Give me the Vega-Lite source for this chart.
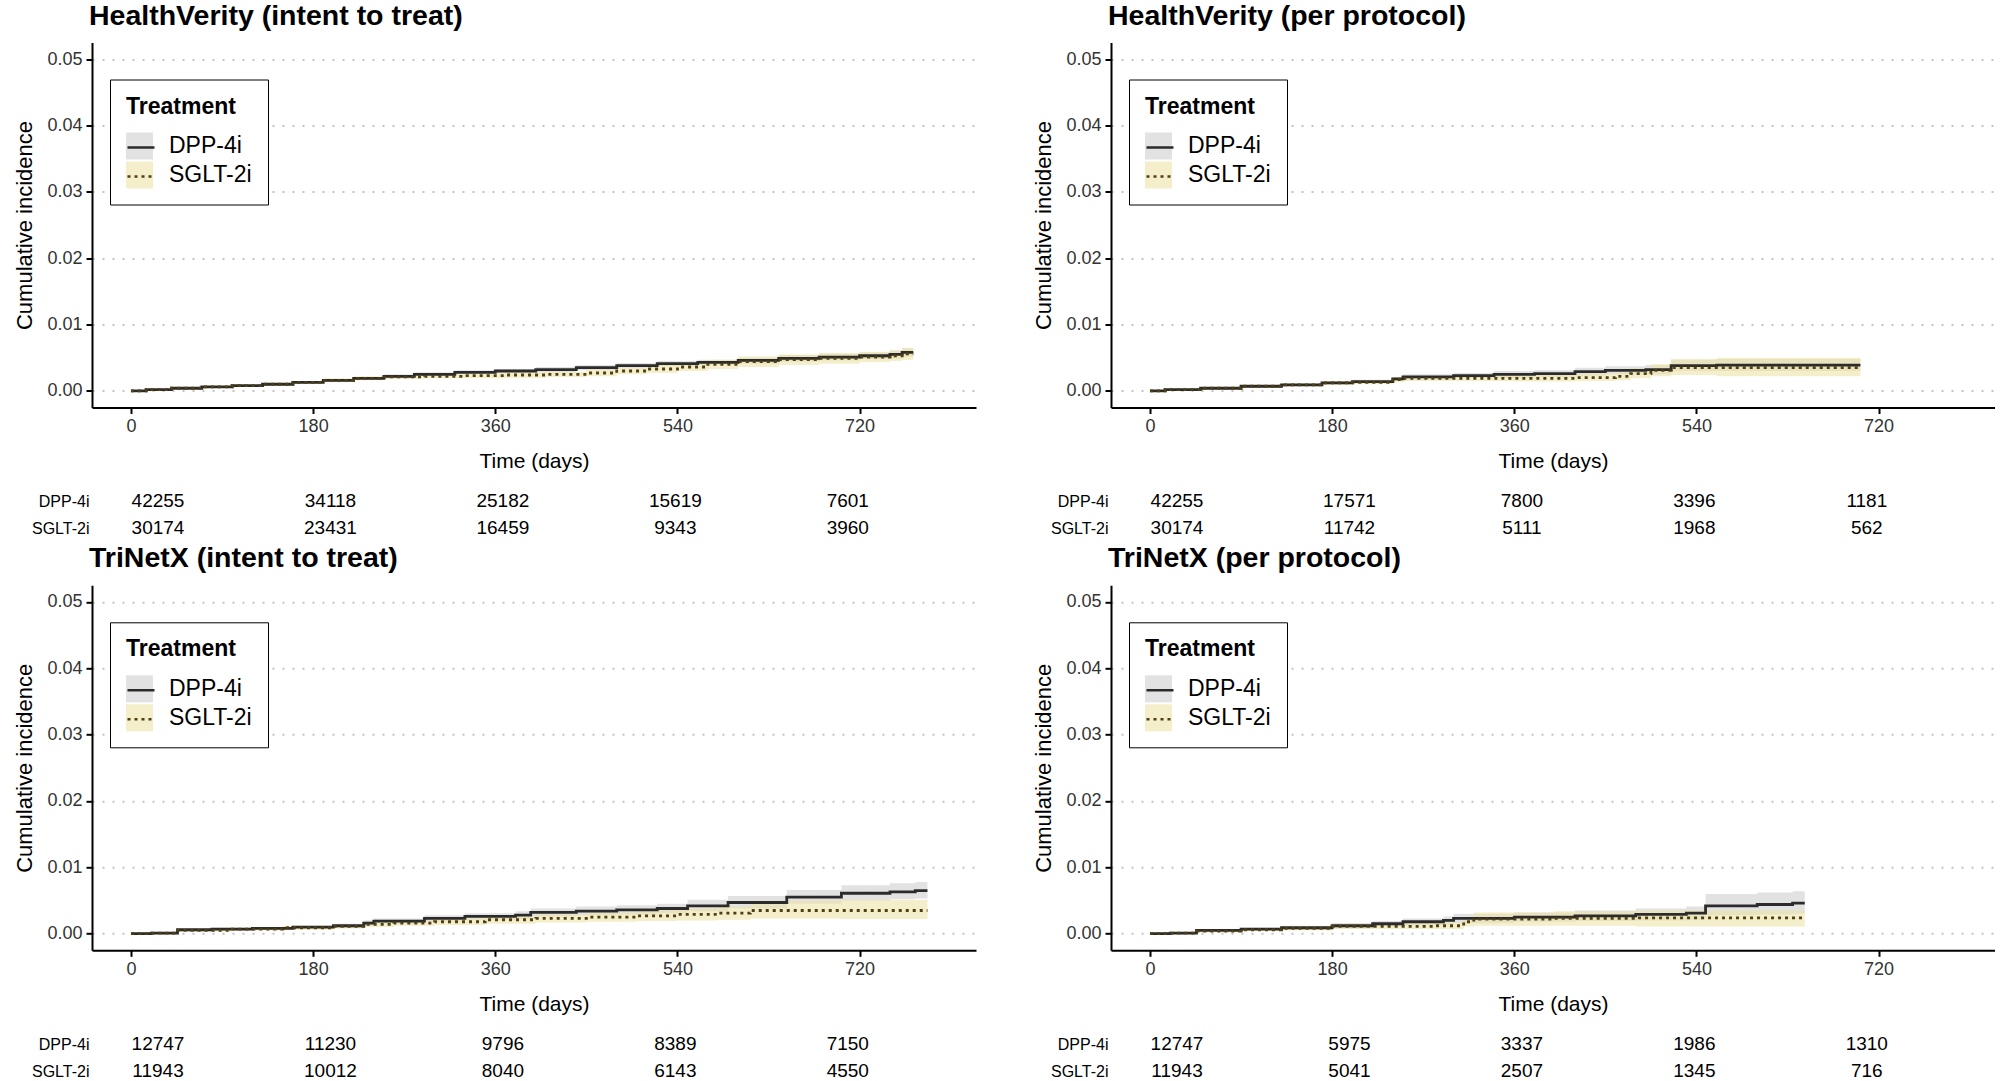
{
"$schema": "https://vega.github.io/schema/vega-lite/v6.json",
"background": "white",
"padding": {"left": 13, "top": 1.5, "right": 0, "bottom": 0},
"config": {
 "font": "Liberation Sans",
 "view": {"stroke": null},
 "axis": {"domainColor": "black", "domainWidth": 2, "tickColor": "black", "tickWidth": 2, "tickSize": 6, "labelColor": "#333333", "labelFontSize": 18, "labelPadding": 4, "titleFontSize": 21, "titleFontWeight": "normal", "titleColor": "black", "grid": false},
 "title": {"fontSize": 28.5, "fontWeight": "bold", "anchor": "start", "frame": "group", "dx": -3, "color": "black", "offset": 12.5},
 "legend": {"titleFontSize": 23, "titleFontWeight": "bold", "titleColor": "black", "labelFontSize": 23, "labelColor": "black", "symbolSize": 729, "padding": 16, "titlePadding": 14, "rowPadding": 2, "labelOffset": 16}
},
"datasets": {
"curves": [
{"panel":"HV-ITT","treatment":"DPP-4i","time":0,"est":0,"lower":0,"upper":0},
{"panel":"HV-ITT","treatment":"DPP-4i","time":15,"est":0.0002,"lower":0.0001,"upper":0.0003},
{"panel":"HV-ITT","treatment":"DPP-4i","time":40,"est":0.0004,"lower":0.0003,"upper":0.0005},
{"panel":"HV-ITT","treatment":"DPP-4i","time":70,"est":0.0006,"lower":0.0005,"upper":0.0007},
{"panel":"HV-ITT","treatment":"DPP-4i","time":100,"est":0.0008,"lower":0.0007,"upper":0.0009},
{"panel":"HV-ITT","treatment":"DPP-4i","time":130,"est":0.0010,"lower":0.0009,"upper":0.0011},
{"panel":"HV-ITT","treatment":"DPP-4i","time":160,"est":0.0013,"lower":0.0011,"upper":0.0015},
{"panel":"HV-ITT","treatment":"DPP-4i","time":190,"est":0.0016,"lower":0.0014,"upper":0.0018},
{"panel":"HV-ITT","treatment":"DPP-4i","time":220,"est":0.0019,"lower":0.0017,"upper":0.0021},
{"panel":"HV-ITT","treatment":"DPP-4i","time":250,"est":0.0022,"lower":0.0019,"upper":0.0025},
{"panel":"HV-ITT","treatment":"DPP-4i","time":280,"est":0.0025,"lower":0.0022,"upper":0.0028},
{"panel":"HV-ITT","treatment":"DPP-4i","time":320,"est":0.0028,"lower":0.0025,"upper":0.0031},
{"panel":"HV-ITT","treatment":"DPP-4i","time":360,"est":0.0030,"lower":0.0027,"upper":0.0033},
{"panel":"HV-ITT","treatment":"DPP-4i","time":400,"est":0.0032,"lower":0.0028,"upper":0.0036},
{"panel":"HV-ITT","treatment":"DPP-4i","time":440,"est":0.0035,"lower":0.0031,"upper":0.0039},
{"panel":"HV-ITT","treatment":"DPP-4i","time":480,"est":0.0038,"lower":0.0034,"upper":0.0042},
{"panel":"HV-ITT","treatment":"DPP-4i","time":520,"est":0.0041,"lower":0.0037,"upper":0.0045},
{"panel":"HV-ITT","treatment":"DPP-4i","time":560,"est":0.0043,"lower":0.0039,"upper":0.0047},
{"panel":"HV-ITT","treatment":"DPP-4i","time":600,"est":0.0046,"lower":0.0041,"upper":0.0050},
{"panel":"HV-ITT","treatment":"DPP-4i","time":640,"est":0.0049,"lower":0.0044,"upper":0.0054},
{"panel":"HV-ITT","treatment":"DPP-4i","time":680,"est":0.0051,"lower":0.0046,"upper":0.0056},
{"panel":"HV-ITT","treatment":"DPP-4i","time":720,"est":0.0053,"lower":0.0048,"upper":0.0058},
{"panel":"HV-ITT","treatment":"DPP-4i","time":750,"est":0.0055,"lower":0.0049,"upper":0.0061},
{"panel":"HV-ITT","treatment":"DPP-4i","time":762,"est":0.0058,"lower":0.0052,"upper":0.0064},
{"panel":"HV-ITT","treatment":"DPP-4i","time":773,"est":0.0058,"lower":0.0052,"upper":0.0064},
{"panel":"HV-ITT","treatment":"SGLT-2i","time":0,"est":0,"lower":0,"upper":0},
{"panel":"HV-ITT","treatment":"SGLT-2i","time":15,"est":0.0002,"lower":0.0001,"upper":0.0003},
{"panel":"HV-ITT","treatment":"SGLT-2i","time":40,"est":0.0004,"lower":0.0003,"upper":0.0005},
{"panel":"HV-ITT","treatment":"SGLT-2i","time":70,"est":0.0006,"lower":0.0005,"upper":0.0007},
{"panel":"HV-ITT","treatment":"SGLT-2i","time":100,"est":0.0008,"lower":0.0007,"upper":0.0009},
{"panel":"HV-ITT","treatment":"SGLT-2i","time":130,"est":0.0010,"lower":0.0008,"upper":0.0012},
{"panel":"HV-ITT","treatment":"SGLT-2i","time":160,"est":0.0013,"lower":0.0011,"upper":0.0015},
{"panel":"HV-ITT","treatment":"SGLT-2i","time":190,"est":0.0016,"lower":0.0013,"upper":0.0019},
{"panel":"HV-ITT","treatment":"SGLT-2i","time":220,"est":0.0019,"lower":0.0016,"upper":0.0022},
{"panel":"HV-ITT","treatment":"SGLT-2i","time":250,"est":0.0021,"lower":0.0018,"upper":0.0024},
{"panel":"HV-ITT","treatment":"SGLT-2i","time":290,"est":0.0022,"lower":0.0019,"upper":0.0026},
{"panel":"HV-ITT","treatment":"SGLT-2i","time":330,"est":0.0023,"lower":0.0019,"upper":0.0027},
{"panel":"HV-ITT","treatment":"SGLT-2i","time":370,"est":0.0024,"lower":0.0020,"upper":0.0028},
{"panel":"HV-ITT","treatment":"SGLT-2i","time":410,"est":0.0025,"lower":0.0021,"upper":0.0029},
{"panel":"HV-ITT","treatment":"SGLT-2i","time":450,"est":0.0027,"lower":0.0022,"upper":0.0032},
{"panel":"HV-ITT","treatment":"SGLT-2i","time":480,"est":0.0030,"lower":0.0025,"upper":0.0035},
{"panel":"HV-ITT","treatment":"SGLT-2i","time":510,"est":0.0033,"lower":0.0027,"upper":0.0039},
{"panel":"HV-ITT","treatment":"SGLT-2i","time":540,"est":0.0036,"lower":0.0030,"upper":0.0042},
{"panel":"HV-ITT","treatment":"SGLT-2i","time":570,"est":0.0040,"lower":0.0033,"upper":0.0047},
{"panel":"HV-ITT","treatment":"SGLT-2i","time":600,"est":0.0044,"lower":0.0036,"upper":0.0052},
{"panel":"HV-ITT","treatment":"SGLT-2i","time":640,"est":0.0047,"lower":0.0039,"upper":0.0055},
{"panel":"HV-ITT","treatment":"SGLT-2i","time":680,"est":0.0049,"lower":0.0041,"upper":0.0057},
{"panel":"HV-ITT","treatment":"SGLT-2i","time":720,"est":0.0051,"lower":0.0043,"upper":0.0059},
{"panel":"HV-ITT","treatment":"SGLT-2i","time":750,"est":0.0053,"lower":0.0045,"upper":0.0061},
{"panel":"HV-ITT","treatment":"SGLT-2i","time":762,"est":0.0056,"lower":0.0047,"upper":0.0065},
{"panel":"HV-ITT","treatment":"SGLT-2i","time":773,"est":0.0056,"lower":0.0047,"upper":0.0065},
{"panel":"HV-PP","treatment":"DPP-4i","time":0,"est":0,"lower":0,"upper":0},
{"panel":"HV-PP","treatment":"DPP-4i","time":15,"est":0.0002,"lower":0.0001,"upper":0.0003},
{"panel":"HV-PP","treatment":"DPP-4i","time":50,"est":0.0004,"lower":0.0003,"upper":0.0005},
{"panel":"HV-PP","treatment":"DPP-4i","time":90,"est":0.0007,"lower":0.0005,"upper":0.0009},
{"panel":"HV-PP","treatment":"DPP-4i","time":130,"est":0.0009,"lower":0.0007,"upper":0.0011},
{"panel":"HV-PP","treatment":"DPP-4i","time":170,"est":0.0012,"lower":0.0010,"upper":0.0014},
{"panel":"HV-PP","treatment":"DPP-4i","time":200,"est":0.0014,"lower":0.0011,"upper":0.0017},
{"panel":"HV-PP","treatment":"DPP-4i","time":240,"est":0.0018,"lower":0.0015,"upper":0.0021},
{"panel":"HV-PP","treatment":"DPP-4i","time":250,"est":0.0021,"lower":0.0017,"upper":0.0025},
{"panel":"HV-PP","treatment":"DPP-4i","time":300,"est":0.0023,"lower":0.0019,"upper":0.0027},
{"panel":"HV-PP","treatment":"DPP-4i","time":340,"est":0.0025,"lower":0.0020,"upper":0.0030},
{"panel":"HV-PP","treatment":"DPP-4i","time":380,"est":0.0026,"lower":0.0021,"upper":0.0031},
{"panel":"HV-PP","treatment":"DPP-4i","time":420,"est":0.0029,"lower":0.0023,"upper":0.0035},
{"panel":"HV-PP","treatment":"DPP-4i","time":450,"est":0.0031,"lower":0.0025,"upper":0.0037},
{"panel":"HV-PP","treatment":"DPP-4i","time":490,"est":0.0032,"lower":0.0025,"upper":0.0039},
{"panel":"HV-PP","treatment":"DPP-4i","time":515,"est":0.0038,"lower":0.0030,"upper":0.0047},
{"panel":"HV-PP","treatment":"DPP-4i","time":560,"est":0.0039,"lower":0.0030,"upper":0.0048},
{"panel":"HV-PP","treatment":"DPP-4i","time":702,"est":0.0039,"lower":0.0030,"upper":0.0048},
{"panel":"HV-PP","treatment":"SGLT-2i","time":0,"est":0,"lower":0,"upper":0},
{"panel":"HV-PP","treatment":"SGLT-2i","time":15,"est":0.0002,"lower":0.0001,"upper":0.0003},
{"panel":"HV-PP","treatment":"SGLT-2i","time":50,"est":0.0004,"lower":0.0003,"upper":0.0005},
{"panel":"HV-PP","treatment":"SGLT-2i","time":90,"est":0.0007,"lower":0.0005,"upper":0.0009},
{"panel":"HV-PP","treatment":"SGLT-2i","time":130,"est":0.0009,"lower":0.0007,"upper":0.0011},
{"panel":"HV-PP","treatment":"SGLT-2i","time":170,"est":0.0012,"lower":0.0009,"upper":0.0015},
{"panel":"HV-PP","treatment":"SGLT-2i","time":200,"est":0.0013,"lower":0.0010,"upper":0.0016},
{"panel":"HV-PP","treatment":"SGLT-2i","time":240,"est":0.0017,"lower":0.0013,"upper":0.0021},
{"panel":"HV-PP","treatment":"SGLT-2i","time":250,"est":0.0019,"lower":0.0015,"upper":0.0023},
{"panel":"HV-PP","treatment":"SGLT-2i","time":300,"est":0.0019,"lower":0.0015,"upper":0.0024},
{"panel":"HV-PP","treatment":"SGLT-2i","time":360,"est":0.0019,"lower":0.0014,"upper":0.0024},
{"panel":"HV-PP","treatment":"SGLT-2i","time":420,"est":0.0020,"lower":0.0015,"upper":0.0026},
{"panel":"HV-PP","treatment":"SGLT-2i","time":460,"est":0.0022,"lower":0.0016,"upper":0.0028},
{"panel":"HV-PP","treatment":"SGLT-2i","time":475,"est":0.0026,"lower":0.0019,"upper":0.0034},
{"panel":"HV-PP","treatment":"SGLT-2i","time":495,"est":0.0031,"lower":0.0022,"upper":0.0040},
{"panel":"HV-PP","treatment":"SGLT-2i","time":515,"est":0.0035,"lower":0.0024,"upper":0.0048},
{"panel":"HV-PP","treatment":"SGLT-2i","time":560,"est":0.0035,"lower":0.0022,"upper":0.0050},
{"panel":"HV-PP","treatment":"SGLT-2i","time":702,"est":0.0035,"lower":0.0022,"upper":0.0050},
{"panel":"TNX-ITT","treatment":"DPP-4i","time":0,"est":0,"lower":0,"upper":0},
{"panel":"TNX-ITT","treatment":"DPP-4i","time":20,"est":0.0001,"lower":0,"upper":0.0002},
{"panel":"TNX-ITT","treatment":"DPP-4i","time":46,"est":0.0006,"lower":0.0004,"upper":0.0008},
{"panel":"TNX-ITT","treatment":"DPP-4i","time":80,"est":0.0007,"lower":0.0005,"upper":0.0009},
{"panel":"TNX-ITT","treatment":"DPP-4i","time":120,"est":0.0008,"lower":0.0006,"upper":0.0010},
{"panel":"TNX-ITT","treatment":"DPP-4i","time":160,"est":0.0010,"lower":0.0008,"upper":0.0012},
{"panel":"TNX-ITT","treatment":"DPP-4i","time":200,"est":0.0012,"lower":0.0009,"upper":0.0015},
{"panel":"TNX-ITT","treatment":"DPP-4i","time":230,"est":0.0016,"lower":0.0012,"upper":0.0020},
{"panel":"TNX-ITT","treatment":"DPP-4i","time":240,"est":0.0019,"lower":0.0015,"upper":0.0023},
{"panel":"TNX-ITT","treatment":"DPP-4i","time":290,"est":0.0023,"lower":0.0018,"upper":0.0028},
{"panel":"TNX-ITT","treatment":"DPP-4i","time":330,"est":0.0026,"lower":0.0021,"upper":0.0031},
{"panel":"TNX-ITT","treatment":"DPP-4i","time":380,"est":0.0028,"lower":0.0022,"upper":0.0034},
{"panel":"TNX-ITT","treatment":"DPP-4i","time":395,"est":0.0032,"lower":0.0026,"upper":0.0038},
{"panel":"TNX-ITT","treatment":"DPP-4i","time":440,"est":0.0034,"lower":0.0028,"upper":0.0041},
{"panel":"TNX-ITT","treatment":"DPP-4i","time":480,"est":0.0036,"lower":0.0029,"upper":0.0043},
{"panel":"TNX-ITT","treatment":"DPP-4i","time":520,"est":0.0038,"lower":0.0031,"upper":0.0045},
{"panel":"TNX-ITT","treatment":"DPP-4i","time":550,"est":0.0042,"lower":0.0034,"upper":0.0051},
{"panel":"TNX-ITT","treatment":"DPP-4i","time":590,"est":0.0047,"lower":0.0038,"upper":0.0057},
{"panel":"TNX-ITT","treatment":"DPP-4i","time":648,"est":0.0055,"lower":0.0045,"upper":0.0066},
{"panel":"TNX-ITT","treatment":"DPP-4i","time":702,"est":0.0061,"lower":0.0050,"upper":0.0073},
{"panel":"TNX-ITT","treatment":"DPP-4i","time":750,"est":0.0063,"lower":0.0052,"upper":0.0076},
{"panel":"TNX-ITT","treatment":"DPP-4i","time":775,"est":0.0065,"lower":0.0053,"upper":0.0078},
{"panel":"TNX-ITT","treatment":"DPP-4i","time":787,"est":0.0065,"lower":0.0053,"upper":0.0078},
{"panel":"TNX-ITT","treatment":"SGLT-2i","time":0,"est":0,"lower":0,"upper":0},
{"panel":"TNX-ITT","treatment":"SGLT-2i","time":20,"est":0.0001,"lower":0,"upper":0.0002},
{"panel":"TNX-ITT","treatment":"SGLT-2i","time":46,"est":0.0005,"lower":0.0003,"upper":0.0007},
{"panel":"TNX-ITT","treatment":"SGLT-2i","time":100,"est":0.0007,"lower":0.0005,"upper":0.0009},
{"panel":"TNX-ITT","treatment":"SGLT-2i","time":150,"est":0.0009,"lower":0.0006,"upper":0.0012},
{"panel":"TNX-ITT","treatment":"SGLT-2i","time":200,"est":0.0011,"lower":0.0008,"upper":0.0014},
{"panel":"TNX-ITT","treatment":"SGLT-2i","time":230,"est":0.0014,"lower":0.0010,"upper":0.0018},
{"panel":"TNX-ITT","treatment":"SGLT-2i","time":260,"est":0.0016,"lower":0.0012,"upper":0.0020},
{"panel":"TNX-ITT","treatment":"SGLT-2i","time":300,"est":0.0018,"lower":0.0013,"upper":0.0023},
{"panel":"TNX-ITT","treatment":"SGLT-2i","time":350,"est":0.0021,"lower":0.0015,"upper":0.0027},
{"panel":"TNX-ITT","treatment":"SGLT-2i","time":400,"est":0.0023,"lower":0.0017,"upper":0.0029},
{"panel":"TNX-ITT","treatment":"SGLT-2i","time":450,"est":0.0025,"lower":0.0018,"upper":0.0032},
{"panel":"TNX-ITT","treatment":"SGLT-2i","time":500,"est":0.0027,"lower":0.0019,"upper":0.0035},
{"panel":"TNX-ITT","treatment":"SGLT-2i","time":540,"est":0.0029,"lower":0.0020,"upper":0.0038},
{"panel":"TNX-ITT","treatment":"SGLT-2i","time":580,"est":0.0031,"lower":0.0021,"upper":0.0041},
{"panel":"TNX-ITT","treatment":"SGLT-2i","time":612,"est":0.0035,"lower":0.0023,"upper":0.0050},
{"panel":"TNX-ITT","treatment":"SGLT-2i","time":700,"est":0.0035,"lower":0.0022,"upper":0.0051},
{"panel":"TNX-ITT","treatment":"SGLT-2i","time":787,"est":0.0035,"lower":0.0022,"upper":0.0052},
{"panel":"TNX-PP","treatment":"DPP-4i","time":0,"est":0,"lower":0,"upper":0},
{"panel":"TNX-PP","treatment":"DPP-4i","time":20,"est":0.0001,"lower":0,"upper":0.0002},
{"panel":"TNX-PP","treatment":"DPP-4i","time":46,"est":0.0005,"lower":0.0003,"upper":0.0007},
{"panel":"TNX-PP","treatment":"DPP-4i","time":90,"est":0.0007,"lower":0.0005,"upper":0.0009},
{"panel":"TNX-PP","treatment":"DPP-4i","time":130,"est":0.0009,"lower":0.0006,"upper":0.0012},
{"panel":"TNX-PP","treatment":"DPP-4i","time":180,"est":0.0012,"lower":0.0008,"upper":0.0016},
{"panel":"TNX-PP","treatment":"DPP-4i","time":220,"est":0.0015,"lower":0.0011,"upper":0.0019},
{"panel":"TNX-PP","treatment":"DPP-4i","time":250,"est":0.0018,"lower":0.0013,"upper":0.0023},
{"panel":"TNX-PP","treatment":"DPP-4i","time":290,"est":0.0020,"lower":0.0014,"upper":0.0026},
{"panel":"TNX-PP","treatment":"DPP-4i","time":300,"est":0.0023,"lower":0.0016,"upper":0.0030},
{"panel":"TNX-PP","treatment":"DPP-4i","time":360,"est":0.0025,"lower":0.0018,"upper":0.0032},
{"panel":"TNX-PP","treatment":"DPP-4i","time":420,"est":0.0027,"lower":0.0019,"upper":0.0035},
{"panel":"TNX-PP","treatment":"DPP-4i","time":480,"est":0.0029,"lower":0.0020,"upper":0.0038},
{"panel":"TNX-PP","treatment":"DPP-4i","time":530,"est":0.0031,"lower":0.0021,"upper":0.0041},
{"panel":"TNX-PP","treatment":"DPP-4i","time":549,"est":0.0042,"lower":0.0028,"upper":0.0060},
{"panel":"TNX-PP","treatment":"DPP-4i","time":600,"est":0.0044,"lower":0.0029,"upper":0.0062},
{"panel":"TNX-PP","treatment":"DPP-4i","time":635,"est":0.0046,"lower":0.0030,"upper":0.0064},
{"panel":"TNX-PP","treatment":"DPP-4i","time":647,"est":0.0046,"lower":0.0030,"upper":0.0064},
{"panel":"TNX-PP","treatment":"SGLT-2i","time":0,"est":0,"lower":0,"upper":0},
{"panel":"TNX-PP","treatment":"SGLT-2i","time":20,"est":0.0001,"lower":0,"upper":0.0002},
{"panel":"TNX-PP","treatment":"SGLT-2i","time":46,"est":0.0004,"lower":0.0002,"upper":0.0006},
{"panel":"TNX-PP","treatment":"SGLT-2i","time":90,"est":0.0006,"lower":0.0004,"upper":0.0008},
{"panel":"TNX-PP","treatment":"SGLT-2i","time":130,"est":0.0008,"lower":0.0005,"upper":0.0011},
{"panel":"TNX-PP","treatment":"SGLT-2i","time":180,"est":0.0011,"lower":0.0007,"upper":0.0015},
{"panel":"TNX-PP","treatment":"SGLT-2i","time":230,"est":0.0011,"lower":0.0007,"upper":0.0016},
{"panel":"TNX-PP","treatment":"SGLT-2i","time":280,"est":0.0012,"lower":0.0007,"upper":0.0017},
{"panel":"TNX-PP","treatment":"SGLT-2i","time":310,"est":0.0018,"lower":0.0011,"upper":0.0025},
{"panel":"TNX-PP","treatment":"SGLT-2i","time":320,"est":0.0022,"lower":0.0012,"upper":0.0032},
{"panel":"TNX-PP","treatment":"SGLT-2i","time":400,"est":0.0023,"lower":0.0012,"upper":0.0034},
{"panel":"TNX-PP","treatment":"SGLT-2i","time":480,"est":0.0024,"lower":0.0011,"upper":0.0035},
{"panel":"TNX-PP","treatment":"SGLT-2i","time":549,"est":0.0024,"lower":0.0011,"upper":0.0035},
{"panel":"TNX-PP","treatment":"SGLT-2i","time":647,"est":0.0024,"lower":0.0011,"upper":0.0035}
],
"risk": [
{"panel":"HV-ITT","treatment":"DPP-4i","time":0,"n":42255},
{"panel":"HV-ITT","treatment":"DPP-4i","time":180,"n":34118},
{"panel":"HV-ITT","treatment":"DPP-4i","time":360,"n":25182},
{"panel":"HV-ITT","treatment":"DPP-4i","time":540,"n":15619},
{"panel":"HV-ITT","treatment":"DPP-4i","time":720,"n":7601},
{"panel":"HV-ITT","treatment":"SGLT-2i","time":0,"n":30174},
{"panel":"HV-ITT","treatment":"SGLT-2i","time":180,"n":23431},
{"panel":"HV-ITT","treatment":"SGLT-2i","time":360,"n":16459},
{"panel":"HV-ITT","treatment":"SGLT-2i","time":540,"n":9343},
{"panel":"HV-ITT","treatment":"SGLT-2i","time":720,"n":3960},
{"panel":"HV-PP","treatment":"DPP-4i","time":0,"n":42255},
{"panel":"HV-PP","treatment":"DPP-4i","time":180,"n":17571},
{"panel":"HV-PP","treatment":"DPP-4i","time":360,"n":7800},
{"panel":"HV-PP","treatment":"DPP-4i","time":540,"n":3396},
{"panel":"HV-PP","treatment":"DPP-4i","time":720,"n":1181},
{"panel":"HV-PP","treatment":"SGLT-2i","time":0,"n":30174},
{"panel":"HV-PP","treatment":"SGLT-2i","time":180,"n":11742},
{"panel":"HV-PP","treatment":"SGLT-2i","time":360,"n":5111},
{"panel":"HV-PP","treatment":"SGLT-2i","time":540,"n":1968},
{"panel":"HV-PP","treatment":"SGLT-2i","time":720,"n":562},
{"panel":"TNX-ITT","treatment":"DPP-4i","time":0,"n":12747},
{"panel":"TNX-ITT","treatment":"DPP-4i","time":180,"n":11230},
{"panel":"TNX-ITT","treatment":"DPP-4i","time":360,"n":9796},
{"panel":"TNX-ITT","treatment":"DPP-4i","time":540,"n":8389},
{"panel":"TNX-ITT","treatment":"DPP-4i","time":720,"n":7150},
{"panel":"TNX-ITT","treatment":"SGLT-2i","time":0,"n":11943},
{"panel":"TNX-ITT","treatment":"SGLT-2i","time":180,"n":10012},
{"panel":"TNX-ITT","treatment":"SGLT-2i","time":360,"n":8040},
{"panel":"TNX-ITT","treatment":"SGLT-2i","time":540,"n":6143},
{"panel":"TNX-ITT","treatment":"SGLT-2i","time":720,"n":4550},
{"panel":"TNX-PP","treatment":"DPP-4i","time":0,"n":12747},
{"panel":"TNX-PP","treatment":"DPP-4i","time":180,"n":5975},
{"panel":"TNX-PP","treatment":"DPP-4i","time":360,"n":3337},
{"panel":"TNX-PP","treatment":"DPP-4i","time":540,"n":1986},
{"panel":"TNX-PP","treatment":"DPP-4i","time":720,"n":1310},
{"panel":"TNX-PP","treatment":"SGLT-2i","time":0,"n":11943},
{"panel":"TNX-PP","treatment":"SGLT-2i","time":180,"n":5041},
{"panel":"TNX-PP","treatment":"SGLT-2i","time":360,"n":2507},
{"panel":"TNX-PP","treatment":"SGLT-2i","time":540,"n":1345},
{"panel":"TNX-PP","treatment":"SGLT-2i","time":720,"n":716}
]
},
"spacing": 1.8,
"resolve": {"scale": {"x": "independent", "y": "independent", "fill": "independent", "stroke": "independent", "strokeDash": "independent"}},
"vconcat": [
{"spacing": 56,
 "resolve": {"scale": {"x": "independent", "y": "independent", "fill": "independent", "stroke": "independent", "strokeDash": "independent"}},
 "hconcat": [
 {"spacing": 16.3,
  "resolve": {"scale": {"x": "independent", "y": "independent", "fill": "independent", "stroke": "independent", "strokeDash": "independent"}},
  "vconcat": [
  {"width": 884, "height": 365,
   "title": {"text": "HealthVerity (intent to treat)"},
   "data": {"name": "curves"},
   "transform": [{"filter": "datum.panel === 'HV-ITT'"}],
   "layer": [
    {"mark": {"type": "area", "interpolate": "step-after", "opacity": 0.6},
     "encoding": {
      "x": {"field": "time", "type": "quantitative", "scale": {"domain": [-38.5, 835], "nice": false, "zero": false}, "axis": {"title": "Time (days)", "values": [0, 180, 360, 540, 720], "titlePadding": 15}},
      "y": {"field": "lower", "type": "quantitative", "scale": {"domain": [-0.0025, 0.0525], "nice": false, "zero": false}, "axis": {"title": "Cumulative incidence", "titleFontSize": 22, "values": [0, 0.01, 0.02, 0.03, 0.04, 0.05], "format": ".2f", "grid": true, "gridColor": "#c4c4c4", "gridDash": [2, 8], "gridWidth": 2, "titlePadding": 10}},
      "y2": {"field": "upper"},
      "fill": {"field": "treatment", "type": "nominal", "scale": {"range": ["#cfcfcf", "#efe3a6"]}, "legend": {"title": "Treatment", "orient": "none", "legendX": 18, "legendY": 37, "symbolType": "square", "symbolStrokeWidth": 0, "strokeColor": "black", "fillColor": "white"}}
     }},
    {"mark": {"type": "line", "interpolate": "step-after", "strokeWidth": 2.8},
     "encoding": {
      "x": {"field": "time", "type": "quantitative", "scale": {"domain": [-38.5, 835], "nice": false, "zero": false}},
      "y": {"field": "est", "type": "quantitative", "scale": {"domain": [-0.0025, 0.0525], "nice": false, "zero": false}},
      "stroke": {"field": "treatment", "type": "nominal", "scale": {"domain": ["DPP-4i", "SGLT-2i"], "range": ["#2b2b2b", "#4f3f12"]}, "legend": {"title": "Treatment", "orient": "none", "legendX": 18, "legendY": 37, "symbolType": "stroke", "symbolStrokeWidth": 2.5, "titleColor": "transparent", "labelColor": "transparent"}},
      "strokeDash": {"field": "treatment", "type": "nominal", "scale": {"domain": ["DPP-4i", "SGLT-2i"], "range": [[1, 0], [3, 4]]}, "legend": {"title": "Treatment", "orient": "none", "legendX": 18, "legendY": 37, "symbolType": "stroke", "symbolStrokeWidth": 2.5, "titleColor": "transparent", "labelColor": "transparent"}}
     }}
   ]},
  {"width": 884, "height": 54,
   "data": {"name": "risk"},
   "transform": [{"filter": "datum.panel === 'HV-ITT'"}],
   "mark": {"type": "text", "fontSize": 19, "color": "black"},
   "encoding": {
    "x": {"field": "time", "type": "quantitative", "scale": {"domain": [-68.9, 853.8], "nice": false, "zero": false}, "axis": null},
    "y": {"field": "treatment", "type": "nominal", "scale": {"type": "point", "padding": 0.5, "domain": ["DPP-4i", "SGLT-2i"]}, "axis": {"title": null, "domain": false, "ticks": false, "labelFontSize": 16, "labelColor": "black", "labelPadding": 3}},
    "text": {"field": "n", "type": "quantitative", "format": "d"}
   }}
  ]},
 {"spacing": 16.3,
  "resolve": {"scale": {"x": "independent", "y": "independent", "fill": "independent", "stroke": "independent", "strokeDash": "independent"}},
  "vconcat": [
  {"width": 884, "height": 365,
   "title": {"text": "HealthVerity (per protocol)"},
   "data": {"name": "curves"},
   "transform": [{"filter": "datum.panel === 'HV-PP'"}],
   "layer": [
    {"mark": {"type": "area", "interpolate": "step-after", "opacity": 0.6},
     "encoding": {
      "x": {"field": "time", "type": "quantitative", "scale": {"domain": [-38.5, 835], "nice": false, "zero": false}, "axis": {"title": "Time (days)", "values": [0, 180, 360, 540, 720], "titlePadding": 15}},
      "y": {"field": "lower", "type": "quantitative", "scale": {"domain": [-0.0025, 0.0525], "nice": false, "zero": false}, "axis": {"title": "Cumulative incidence", "titleFontSize": 22, "values": [0, 0.01, 0.02, 0.03, 0.04, 0.05], "format": ".2f", "grid": true, "gridColor": "#c4c4c4", "gridDash": [2, 8], "gridWidth": 2, "titlePadding": 10}},
      "y2": {"field": "upper"},
      "fill": {"field": "treatment", "type": "nominal", "scale": {"range": ["#cfcfcf", "#efe3a6"]}, "legend": {"title": "Treatment", "orient": "none", "legendX": 18, "legendY": 37, "symbolType": "square", "symbolStrokeWidth": 0, "strokeColor": "black", "fillColor": "white"}}
     }},
    {"mark": {"type": "line", "interpolate": "step-after", "strokeWidth": 2.8},
     "encoding": {
      "x": {"field": "time", "type": "quantitative", "scale": {"domain": [-38.5, 835], "nice": false, "zero": false}},
      "y": {"field": "est", "type": "quantitative", "scale": {"domain": [-0.0025, 0.0525], "nice": false, "zero": false}},
      "stroke": {"field": "treatment", "type": "nominal", "scale": {"domain": ["DPP-4i", "SGLT-2i"], "range": ["#2b2b2b", "#4f3f12"]}, "legend": {"title": "Treatment", "orient": "none", "legendX": 18, "legendY": 37, "symbolType": "stroke", "symbolStrokeWidth": 2.5, "titleColor": "transparent", "labelColor": "transparent"}},
      "strokeDash": {"field": "treatment", "type": "nominal", "scale": {"domain": ["DPP-4i", "SGLT-2i"], "range": [[1, 0], [3, 4]]}, "legend": {"title": "Treatment", "orient": "none", "legendX": 18, "legendY": 37, "symbolType": "stroke", "symbolStrokeWidth": 2.5, "titleColor": "transparent", "labelColor": "transparent"}}
     }}
   ]},
  {"width": 884, "height": 54,
   "data": {"name": "risk"},
   "transform": [{"filter": "datum.panel === 'HV-PP'"}],
   "mark": {"type": "text", "fontSize": 19, "color": "black"},
   "encoding": {
    "x": {"field": "time", "type": "quantitative", "scale": {"domain": [-68.9, 853.8], "nice": false, "zero": false}, "axis": null},
    "y": {"field": "treatment", "type": "nominal", "scale": {"type": "point", "padding": 0.5, "domain": ["DPP-4i", "SGLT-2i"]}, "axis": {"title": null, "domain": false, "ticks": false, "labelFontSize": 16, "labelColor": "black", "labelPadding": 3}},
    "text": {"field": "n", "type": "quantitative", "format": "d"}
   }}
  ]}
 ]},
{"spacing": 56,
 "resolve": {"scale": {"x": "independent", "y": "independent", "fill": "independent", "stroke": "independent", "strokeDash": "independent"}},
 "hconcat": [
 {"spacing": 16.3,
  "resolve": {"scale": {"x": "independent", "y": "independent", "fill": "independent", "stroke": "independent", "strokeDash": "independent"}},
  "vconcat": [
  {"width": 884, "height": 365,
   "title": {"text": "TriNetX (intent to treat)"},
   "data": {"name": "curves"},
   "transform": [{"filter": "datum.panel === 'TNX-ITT'"}],
   "layer": [
    {"mark": {"type": "area", "interpolate": "step-after", "opacity": 0.6},
     "encoding": {
      "x": {"field": "time", "type": "quantitative", "scale": {"domain": [-38.5, 835], "nice": false, "zero": false}, "axis": {"title": "Time (days)", "values": [0, 180, 360, 540, 720], "titlePadding": 15}},
      "y": {"field": "lower", "type": "quantitative", "scale": {"domain": [-0.0025, 0.0525], "nice": false, "zero": false}, "axis": {"title": "Cumulative incidence", "titleFontSize": 22, "values": [0, 0.01, 0.02, 0.03, 0.04, 0.05], "format": ".2f", "grid": true, "gridColor": "#c4c4c4", "gridDash": [2, 8], "gridWidth": 2, "titlePadding": 10}},
      "y2": {"field": "upper"},
      "fill": {"field": "treatment", "type": "nominal", "scale": {"range": ["#cfcfcf", "#efe3a6"]}, "legend": {"title": "Treatment", "orient": "none", "legendX": 18, "legendY": 37, "symbolType": "square", "symbolStrokeWidth": 0, "strokeColor": "black", "fillColor": "white"}}
     }},
    {"mark": {"type": "line", "interpolate": "step-after", "strokeWidth": 2.8},
     "encoding": {
      "x": {"field": "time", "type": "quantitative", "scale": {"domain": [-38.5, 835], "nice": false, "zero": false}},
      "y": {"field": "est", "type": "quantitative", "scale": {"domain": [-0.0025, 0.0525], "nice": false, "zero": false}},
      "stroke": {"field": "treatment", "type": "nominal", "scale": {"domain": ["DPP-4i", "SGLT-2i"], "range": ["#2b2b2b", "#4f3f12"]}, "legend": {"title": "Treatment", "orient": "none", "legendX": 18, "legendY": 37, "symbolType": "stroke", "symbolStrokeWidth": 2.5, "titleColor": "transparent", "labelColor": "transparent"}},
      "strokeDash": {"field": "treatment", "type": "nominal", "scale": {"domain": ["DPP-4i", "SGLT-2i"], "range": [[1, 0], [3, 4]]}, "legend": {"title": "Treatment", "orient": "none", "legendX": 18, "legendY": 37, "symbolType": "stroke", "symbolStrokeWidth": 2.5, "titleColor": "transparent", "labelColor": "transparent"}}
     }}
   ]},
  {"width": 884, "height": 54,
   "data": {"name": "risk"},
   "transform": [{"filter": "datum.panel === 'TNX-ITT'"}],
   "mark": {"type": "text", "fontSize": 19, "color": "black"},
   "encoding": {
    "x": {"field": "time", "type": "quantitative", "scale": {"domain": [-68.9, 853.8], "nice": false, "zero": false}, "axis": null},
    "y": {"field": "treatment", "type": "nominal", "scale": {"type": "point", "padding": 0.5, "domain": ["DPP-4i", "SGLT-2i"]}, "axis": {"title": null, "domain": false, "ticks": false, "labelFontSize": 16, "labelColor": "black", "labelPadding": 3}},
    "text": {"field": "n", "type": "quantitative", "format": "d"}
   }}
  ]},
 {"spacing": 16.3,
  "resolve": {"scale": {"x": "independent", "y": "independent", "fill": "independent", "stroke": "independent", "strokeDash": "independent"}},
  "vconcat": [
  {"width": 884, "height": 365,
   "title": {"text": "TriNetX (per protocol)"},
   "data": {"name": "curves"},
   "transform": [{"filter": "datum.panel === 'TNX-PP'"}],
   "layer": [
    {"mark": {"type": "area", "interpolate": "step-after", "opacity": 0.6},
     "encoding": {
      "x": {"field": "time", "type": "quantitative", "scale": {"domain": [-38.5, 835], "nice": false, "zero": false}, "axis": {"title": "Time (days)", "values": [0, 180, 360, 540, 720], "titlePadding": 15}},
      "y": {"field": "lower", "type": "quantitative", "scale": {"domain": [-0.0025, 0.0525], "nice": false, "zero": false}, "axis": {"title": "Cumulative incidence", "titleFontSize": 22, "values": [0, 0.01, 0.02, 0.03, 0.04, 0.05], "format": ".2f", "grid": true, "gridColor": "#c4c4c4", "gridDash": [2, 8], "gridWidth": 2, "titlePadding": 10}},
      "y2": {"field": "upper"},
      "fill": {"field": "treatment", "type": "nominal", "scale": {"range": ["#cfcfcf", "#efe3a6"]}, "legend": {"title": "Treatment", "orient": "none", "legendX": 18, "legendY": 37, "symbolType": "square", "symbolStrokeWidth": 0, "strokeColor": "black", "fillColor": "white"}}
     }},
    {"mark": {"type": "line", "interpolate": "step-after", "strokeWidth": 2.8},
     "encoding": {
      "x": {"field": "time", "type": "quantitative", "scale": {"domain": [-38.5, 835], "nice": false, "zero": false}},
      "y": {"field": "est", "type": "quantitative", "scale": {"domain": [-0.0025, 0.0525], "nice": false, "zero": false}},
      "stroke": {"field": "treatment", "type": "nominal", "scale": {"domain": ["DPP-4i", "SGLT-2i"], "range": ["#2b2b2b", "#4f3f12"]}, "legend": {"title": "Treatment", "orient": "none", "legendX": 18, "legendY": 37, "symbolType": "stroke", "symbolStrokeWidth": 2.5, "titleColor": "transparent", "labelColor": "transparent"}},
      "strokeDash": {"field": "treatment", "type": "nominal", "scale": {"domain": ["DPP-4i", "SGLT-2i"], "range": [[1, 0], [3, 4]]}, "legend": {"title": "Treatment", "orient": "none", "legendX": 18, "legendY": 37, "symbolType": "stroke", "symbolStrokeWidth": 2.5, "titleColor": "transparent", "labelColor": "transparent"}}
     }}
   ]},
  {"width": 884, "height": 54,
   "data": {"name": "risk"},
   "transform": [{"filter": "datum.panel === 'TNX-PP'"}],
   "mark": {"type": "text", "fontSize": 19, "color": "black"},
   "encoding": {
    "x": {"field": "time", "type": "quantitative", "scale": {"domain": [-68.9, 853.8], "nice": false, "zero": false}, "axis": null},
    "y": {"field": "treatment", "type": "nominal", "scale": {"type": "point", "padding": 0.5, "domain": ["DPP-4i", "SGLT-2i"]}, "axis": {"title": null, "domain": false, "ticks": false, "labelFontSize": 16, "labelColor": "black", "labelPadding": 3}},
    "text": {"field": "n", "type": "quantitative", "format": "d"}
   }}
  ]}
 ]}
]
}
